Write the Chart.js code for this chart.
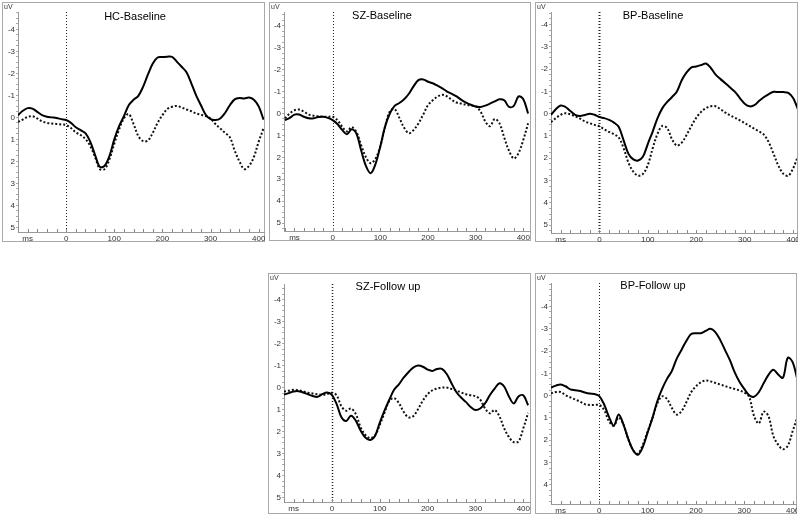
<!DOCTYPE html>
<html><head><meta charset="utf-8">
<script src="https://cdn.jsdelivr.net/npm/chart.js@4.4.0/dist/chart.umd.min.js"></script>
<style>
body{margin:0;background:#fff;width:800px;height:516px;overflow:hidden;position:relative;font-family:"Liberation Sans",Arial,sans-serif;}
.frame{position:absolute;box-sizing:border-box;border:1.5px solid #a9a9a9;}
canvas{position:absolute;}
.title{position:absolute;font-size:11px;color:#000;white-space:nowrap;transform:translate(-50%,-50%);}
.uv{position:absolute;font-size:7px;color:#333;}
</style></head><body>
<script>
// ---- data (time in ms, amplitude in uV) ----
const times = [-100,-90,-80,-70,-60,-50,-40,-30,-20,-10,0,10,20,30,40,50,60,70,80,90,100,110,120,130,140,150,160,170,180,190,200,210,220,230,240,250,260,270,280,290,300,310,320,330,340,350,360,370,380,390,400,410];
const hcBaseSolid = [-0.1,-0.3,-0.42,-0.4,-0.25,-0.1,-0.03,0,0.03,0.08,0.12,0.25,0.45,0.58,0.72,1.1,1.7,2.25,2.2,1.75,1.0,0.4,-0.05,-0.55,-0.8,-0.98,-1.4,-1.95,-2.45,-2.72,-2.74,-2.76,-2.75,-2.53,-2.3,-2.05,-1.55,-1.0,-0.55,-0.12,0.08,0.12,0.05,-0.2,-0.55,-0.82,-0.88,-0.86,-0.9,-0.8,-0.5,0.1];
const hcBaseDotted = [0.2,0.1,-0.02,-0.05,0.05,0.18,0.25,0.28,0.3,0.32,0.35,0.48,0.68,0.8,0.98,1.3,1.8,2.35,2.35,1.9,1.2,0.55,0.05,-0.15,0.3,0.85,1.08,1.05,0.7,0.25,-0.1,-0.38,-0.48,-0.52,-0.45,-0.36,-0.28,-0.18,-0.12,-0.06,0.05,0.3,0.5,0.7,0.9,1.5,2.0,2.35,2.2,1.8,1.1,0.5];
const szBaseSolid = [0.3,0.2,0.05,0.05,0.15,0.22,0.22,0.16,0.15,0.2,0.3,0.48,0.75,0.95,0.72,0.92,1.7,2.4,2.72,2.3,1.5,0.6,0.0,-0.35,-0.48,-0.65,-0.9,-1.25,-1.52,-1.55,-1.45,-1.38,-1.27,-1.15,-1.0,-0.9,-0.78,-0.62,-0.5,-0.4,-0.32,-0.3,-0.36,-0.45,-0.55,-0.65,-0.6,-0.3,-0.35,-0.78,-0.65,0.0];
const szBaseDotted = [0.22,0.0,-0.15,-0.18,-0.08,0.05,0.1,0.13,0.15,0.15,0.15,0.3,0.6,0.82,0.62,0.85,1.45,2.0,2.27,2.05,1.5,0.6,-0.1,-0.2,0.2,0.65,0.9,0.75,0.45,0.05,-0.38,-0.6,-0.77,-0.85,-0.78,-0.62,-0.5,-0.45,-0.4,-0.36,-0.33,-0.1,0.35,0.58,0.25,0.45,1.1,1.7,2.05,1.8,1.2,0.45];
const bpBaseSolid = [0.05,-0.2,-0.37,-0.3,-0.12,0.05,0.1,0.06,0.0,0.05,0.15,0.2,0.28,0.4,0.6,1.2,1.8,2.05,2.1,1.92,1.35,0.8,0.2,-0.25,-0.53,-0.75,-1.0,-1.5,-1.85,-2.08,-2.12,-2.18,-2.25,-2.05,-1.75,-1.55,-1.37,-1.17,-0.98,-0.7,-0.45,-0.33,-0.38,-0.58,-0.75,-0.88,-0.98,-0.97,-0.97,-0.93,-0.7,-0.2];
const bpBaseDotted = [0.38,0.2,0.05,-0.02,0.03,0.12,0.22,0.35,0.43,0.5,0.57,0.7,0.82,0.92,1.07,1.55,2.2,2.6,2.78,2.7,2.3,1.55,0.9,0.55,0.65,1.15,1.43,1.3,0.95,0.55,0.18,-0.08,-0.25,-0.33,-0.33,-0.2,-0.05,0.08,0.18,0.3,0.42,0.55,0.68,0.8,0.95,1.3,1.82,2.35,2.7,2.78,2.45,1.9];
const szFollowSolid = [0.32,0.25,0.18,0.16,0.22,0.3,0.38,0.42,0.3,0.22,0.33,0.75,1.35,1.52,1.28,1.5,1.95,2.27,2.38,2.2,1.6,1.05,0.55,0.1,-0.15,-0.45,-0.7,-0.91,-1.0,-0.95,-0.82,-0.76,-0.85,-0.85,-0.62,-0.2,0.2,0.45,0.65,0.88,1.02,0.95,0.72,0.35,0.05,-0.2,-0.05,0.4,0.72,0.4,0.35,0.8];
const szFollowDotted = [0.18,0.14,0.1,0.12,0.17,0.23,0.27,0.3,0.33,0.3,0.23,0.35,0.85,1.05,0.95,1.2,1.8,2.15,2.3,2.18,1.7,1.15,0.6,0.48,0.7,1.1,1.35,1.3,0.98,0.6,0.3,0.12,0.04,0.0,0.0,0.06,0.13,0.22,0.3,0.35,0.39,0.55,0.94,1.17,1.02,1.3,1.85,2.25,2.48,2.45,1.85,1.15];
const bpFollowSolid = [-0.36,-0.45,-0.5,-0.42,-0.28,-0.24,-0.21,-0.14,-0.09,-0.07,0.02,0.4,0.95,1.35,0.85,1.3,1.95,2.45,2.65,2.3,1.65,1.0,0.25,-0.3,-0.75,-1.1,-1.65,-2.05,-2.45,-2.76,-2.8,-2.8,-2.9,-3.0,-2.85,-2.5,-2.05,-1.6,-1.05,-0.62,-0.3,-0.02,0.05,-0.15,-0.55,-0.93,-1.16,-0.95,-0.8,-1.7,-1.5,-0.7];
const bpFollowDotted = [-0.1,-0.16,-0.16,-0.02,0.08,0.17,0.27,0.38,0.42,0.42,0.42,0.65,1.15,1.35,0.98,1.3,1.95,2.45,2.6,2.2,1.6,1.0,0.35,0.03,0.15,0.55,0.85,0.7,0.3,-0.15,-0.42,-0.6,-0.68,-0.64,-0.57,-0.5,-0.43,-0.36,-0.3,-0.23,-0.14,0.05,0.9,1.25,0.72,0.92,1.8,2.2,2.4,2.25,1.6,0.95];
const titles = ['HC-Baseline','SZ-Baseline','BP-Baseline','SZ-Follow up','BP-Follow up'];
const yTickLabels = [-4,-3,-2,-1,0,1,2,3,4,5];
const xTickLabels = [0,100,200,300,400];
const xUnit = 'ms', yUnit = 'uV';

// ---- layout ----
const panels = [
  {title:titles[0], solid:hcBaseSolid, dotted:hcBaseDotted, frame:[2,2,263,240], plot:[18,12,264,232], x:[-100,411], y:[-4.79,5.21], zw:1},
  {title:titles[1], solid:szBaseSolid, dotted:szBaseDotted, frame:[269,2,262,239], plot:[284,12,530,231], x:[-102,414], y:[-4.63,5.36], zw:1},
  {title:titles[2], solid:bpBaseSolid, dotted:bpBaseDotted, frame:[535,2,263,240], plot:[551,12,797,233], x:[-100,408], y:[-4.56,5.35], zw:2},
  {title:titles[3], solid:szFollowSolid, dotted:szFollowDotted, frame:[268,273,263,241], plot:[284,284,530,502], x:[-100,414], y:[-4.71,5.2], zw:1.5},
  {title:titles[4], solid:bpFollowSolid, dotted:bpFollowDotted, frame:[535,273,262,241], plot:[551,283,796,504], x:[-100,407], y:[-5.05,4.86], zw:1}
];
const titlePos = [[135,16],[382,15],[653,15],[388,286],[653,285]];

const zeroLine = {
  id:'zeroLine',
  beforeDatasetsDraw(chart, args, opts){
    const {ctx, chartArea:a, scales:{x}} = chart;
    const px = Math.round(x.getPixelForValue(0)) + 0.5;
    ctx.save();
    ctx.strokeStyle = '#222';
    ctx.lineWidth = opts.width || 1;
    ctx.setLineDash([1,2]);
    ctx.beginPath(); ctx.moveTo(px, a.top); ctx.lineTo(px, a.bottom); ctx.stroke();
    ctx.restore();
  }
};
// small tick marks on the inner side of the x axis
const innerTicks = {
  id:'innerTicks',
  afterDraw(chart){
    const {ctx, chartArea:a, scales:{x}} = chart;
    ctx.save();
    ctx.strokeStyle = '#888';
    ctx.lineWidth = 1;
    x.ticks.forEach(t => {
      const px = Math.round(x.getPixelForValue(t.value)) + 0.5;
      ctx.beginPath(); ctx.moveTo(px, a.bottom); ctx.lineTo(px, a.bottom - 3); ctx.stroke();
    });
    ctx.restore();
  }
};

panels.forEach((p, i) => {
  const [fl, ft, fw, fh] = p.frame;
  const [pl, pt, pr, pb] = p.plot;
  const fr = document.createElement('div');
  fr.className = 'frame';
  Object.assign(fr.style, {left:fl+'px', top:ft+'px', width:fw+'px', height:fh+'px'});
  document.body.appendChild(fr);
  const cv = document.createElement('canvas');
  cv.width = fw; cv.height = fh;
  Object.assign(cv.style, {left:fl+'px', top:ft+'px', width:fw+'px', height:fh+'px'});
  document.body.appendChild(cv);
  const t = document.createElement('div');
  t.className = 'title'; t.textContent = p.title;
  t.style.left = titlePos[i][0] + 'px'; t.style.top = titlePos[i][1] + 'px';
  document.body.appendChild(t);
  const u = document.createElement('div');
  u.className = 'uv'; u.textContent = yUnit;
  u.style.left = (fl + 2) + 'px'; u.style.top = (ft + 1) + 'px';
  document.body.appendChild(u);

  const xt = [];
  for (let v = -100; v <= p.x[1]; v += 20) if (v >= p.x[0]) xt.push(v);
  const yt = [];
  for (let v = Math.ceil(p.y[0]*4)/4; v <= p.y[1]; v += 0.25) yt.push(Math.round(v*100)/100);

  new Chart(cv.getContext('2d'), {
    type:'line',
    data:{datasets:[
      {data: times.map((tm,k)=>({x:tm, y:p.solid[k]})), borderColor:'#000', borderWidth:2, pointRadius:0, tension:0.35, fill:false},
      {data: times.map((tm,k)=>({x:tm, y:p.dotted[k]})), borderColor:'#111', borderWidth:2, borderDash:[2,2], pointRadius:0, tension:0.35, fill:false}
    ]},
    options:{
      responsive:false, animation:false, devicePixelRatio:1,
      layout:{padding:{top:pt-ft, right:(fl+fw)-pr, left:0, bottom:0}},
      plugins:{legend:{display:false}, tooltip:{enabled:false}, title:{display:false}, zeroLine:{width:p.zw}},
      scales:{
        x:{type:'linear', min:p.x[0], max:p.x[1],
           afterBuildTicks: s => { s.ticks = xt.map(v=>({value:v})); },
           afterFit: s => { s.height = (ft+fh) - pb; s.paddingLeft = 0; s.paddingRight = 0; },
           grid:{drawOnChartArea:false, drawTicks:false},
           border:{color:'#999', width:1},
           ticks:{autoSkip:false, maxRotation:0, padding:2, color:'#333', font:{size:8, family:'"Liberation Sans", Arial'},
                  callback: v => v === -80 ? xUnit : (xTickLabels.includes(v) ? String(v) : '')}},
        y:{type:'linear', reverse:true, min:p.y[0], max:p.y[1],
           afterBuildTicks: s => { s.ticks = yt.map(v=>({value:v})); },
           afterFit: s => { s.width = pl - fl; s.paddingTop = 0; s.paddingBottom = 0; },
           grid:{drawOnChartArea:false, tickLength:2, color:'#aaa'},
           border:{color:'#999', width:1},
           ticks:{autoSkip:false, padding:1, color:'#333', font:{size:8, family:'"Liberation Sans", Arial'},
                  callback: v => yTickLabels.includes(v) ? String(v) : ''}}
      }
    },
    plugins:[zeroLine, innerTicks]
  });
});
</script>
</body></html>
